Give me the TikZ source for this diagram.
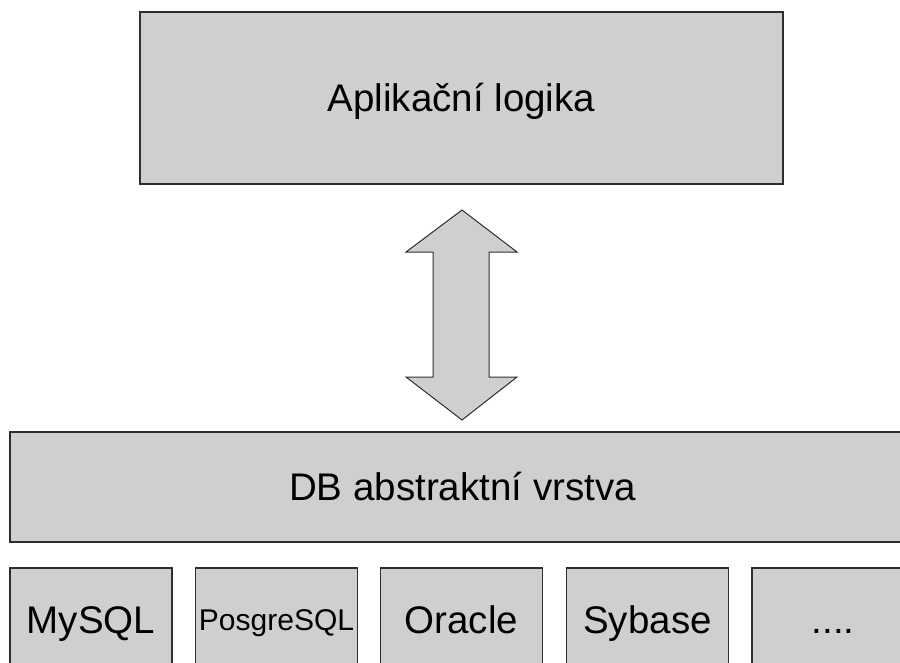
\documentclass[tikz,border=0pt]{standalone}
\usepackage{fontspec}
\setmainfont{Liberation Sans}
\definecolor{boxfill}{HTML}{CFCFCF}
\definecolor{boxline}{HTML}{2E2E2E}
\tikzset{
  blk/.style={draw=boxline, line width=1.5pt, fill=boxfill, inner sep=0pt,
    text height=27.5pt, text depth=0pt, font=\fontsize{38.5}{40}\selectfont},
  dbbox/.style={blk, minimum width=162pt, minimum height=104pt},
  arrowshape/.style={draw=boxline, line width=1pt, fill=boxfill, line join=miter}
}
\begin{document}
\begin{tikzpicture}[x=1pt, y=-1pt]
\clip (0,0) rectangle (900,662);
\fill[white] (0,0) rectangle (900,662);
\node[blk, line width=2pt, minimum width=643pt, minimum height=172pt] (app) at (461.5,98) {Aplikační logika};
\node[blk, minimum width=905pt, minimum height=110pt] (dbl) at (462.5,487) {DB abstraktní vrstva};
\node[dbbox] (mysql) at (91,620) {MySQL};
\node[dbbox, font=\fontsize{30}{32}\selectfont, text height=21.5pt] (pg) at (276.5,620) {PosgreSQL};
\node[dbbox] (oracle) at (461.5,620) {Oracle};
\node[dbbox] (sybase) at (647.5,620) {Sybase};
\node[dbbox] (more) at (833,620) {....};
\coordinate (top) at (462,210);
\coordinate (bot) at (462,420);
\draw[arrowshape] (top) -- ++(55,42) -- ++(-28,0) -- ++(0,125) -- ++(28,0)
  -- (bot) -- ++(-56,-43) -- ++(27,0) -- ++(0,-125) -- ++(-27,0) -- cycle;
\end{tikzpicture}
\end{document}
